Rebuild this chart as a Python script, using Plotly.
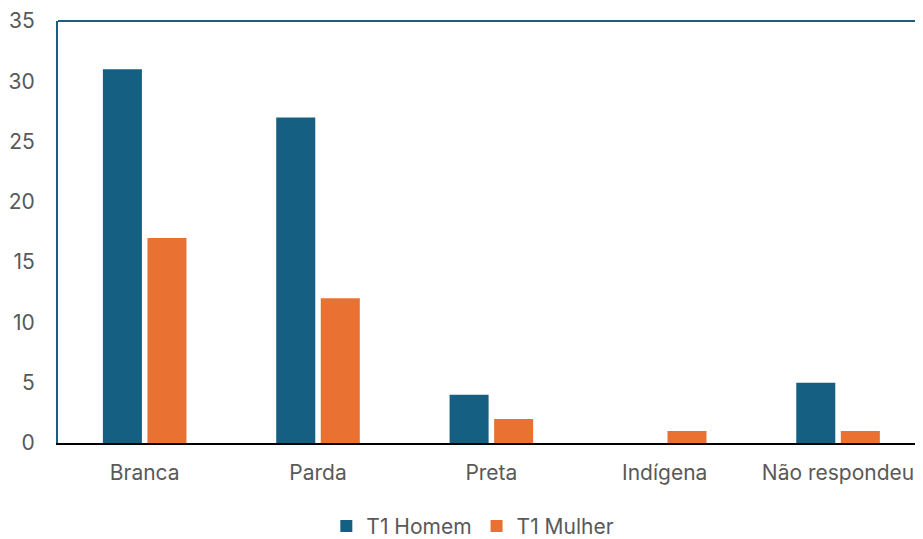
import plotly.graph_objects as go

categories = ["Branca", "Parda", "Preta", "Indígena", "Não respondeu"]
homem = [31, 27, 4, 0, 5]
mulher = [17, 12, 2, 1, 1]
series_names = ["T1 Homem", "T1 Mulher"]
y_ticks = [0, 5, 10, 15, 20, 25, 30, 35]

BLUE = "#156082"
ORANGE = "#E97132"
TEXT = "#595959"
FONT = "Inter"

fig = go.Figure()
fig.add_trace(go.Bar(x=categories, y=homem, name=series_names[0],
                     marker=dict(color=BLUE, line=dict(width=0))))
fig.add_trace(go.Bar(x=categories, y=mulher, name=series_names[1],
                     marker=dict(color=ORANGE, line=dict(width=0))))

fig.update_layout(
    width=915, height=531,
    margin=dict(l=50, r=0, t=10, b=96),
    paper_bgcolor="white", plot_bgcolor="white",
    barmode="group", bargap=0.486, bargroupgap=0.124,
    font=dict(family=FONT, size=21, color=TEXT),
    showlegend=True,
    legend=dict(orientation="h", x=0.508, xref="container", xanchor="center",
                y=0.024, yref="container", yanchor="middle",
                font=dict(size=21, color=TEXT), itemwidth=30,
                traceorder="normal"),
    shapes=[dict(type="line", xref="paper", yref="paper", x0=0, x1=1, y0=1, y1=1,
                 line=dict(color=BLUE, width=2))],
)
fig.update_xaxes(range=[-0.5, 4.49], showline=True, linecolor="black", linewidth=2,
                 ticks="", showgrid=False, ticklabelstandoff=10,
                 ticklabeloverflow="allow",
                 tickfont=dict(size=21, color=TEXT))
fig.update_yaxes(range=[0, 35], tickvals=y_ticks, showline=True, linecolor=BLUE,
                 linewidth=2, showgrid=False, ticks="", zeroline=False,
                 ticklabelstandoff=17, ticklabeloverflow="allow",
                 tickfont=dict(size=21, color=TEXT))

fig.write_html("out.html")
